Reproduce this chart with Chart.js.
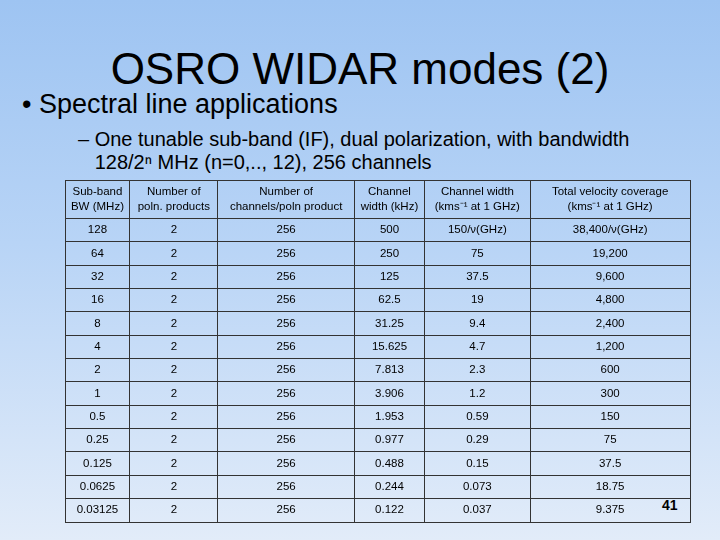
<!DOCTYPE html>
<html><head><meta charset="utf-8">
<script src="https://cdn.jsdelivr.net/npm/chart.js@4/dist/chart.umd.min.js"></script>
<style>
html,body{margin:0;padding:0;width:720px;height:540px;overflow:hidden;font-family:"Liberation Sans",Arial,sans-serif;}
body{background:linear-gradient(to bottom,#9ec4f2 0%,#b8d4f6 45%,#e2ecf9 100%);position:relative;}
.t{position:absolute;left:0;width:720px;text-align:center;top:44px;font-size:44px;color:#000;}
.b1{position:absolute;left:22px;top:89px;font-size:27px;}
.b2{position:absolute;left:78px;top:128px;font-size:20px;line-height:23px;}
.pg{position:absolute;left:662px;top:497px;font-size:14px;font-weight:bold;}
#wrap{position:absolute;left:64px;top:179px;width:627px;height:344px;}
</style></head><body>
<div class="t">OSRO WIDAR modes (2)</div>
<div class="b1">• Spectral line applications</div>
<div class="b2">– One tunable sub-band (IF), dual polarization, with bandwidth<br>&nbsp;&nbsp;&nbsp;128/2ⁿ MHz (n=0,.., 12), 256 channels</div>
<div class="pg">41</div>
<div id="wrap"><canvas id="c"></canvas></div>
<script>
const headers=[["Sub-band","BW (MHz)"],["Number of","poln. products"],["Number of","channels/poln product"],["Channel","width (kHz)"],["Channel width","(kms⁻¹ at 1 GHz)"],["Total velocity coverage","(kms⁻¹ at 1 GHz)"]];
const bandwidth=["128","64","32","16","8","4","2","1","0.5","0.25","0.125","0.0625","0.03125"];
const polnProducts=["2","2","2","2","2","2","2","2","2","2","2","2","2"];
const channels=["256","256","256","256","256","256","256","256","256","256","256","256","256"];
const chanWidthKHz=["500","250","125","62.5","31.25","15.625","7.813","3.906","1.953","0.977","0.488","0.244","0.122"];
const chanWidthKms=["150/ν(GHz)","75","37.5","19","9.4","4.7","2.3","1.2","0.59","0.29","0.15","0.073","0.037"];
const velCoverage=["38,400/ν(GHz)","19,200","9,600","4,800","2,400","1,200","600","300","150","75","37.5","18.75","9.375"];
const columns=[bandwidth,polnProducts,channels,chanWidthKHz,chanWidthKms,velCoverage];
const colEdges=[0,65,153,290,360,466,626];
const headerRows=1.65;
const nRows=bandwidth.length;
const cellText={id:'cellText',afterDraw(ch){
  const {ctx,scales:{x,y}}=ch;ctx.save();ctx.fillStyle='#000';ctx.textAlign='center';ctx.textBaseline='middle';
  ctx.font='11.5px "Liberation Sans",Arial,sans-serif';
  headers.forEach((h,i)=>{const cx=x.getPixelForValue((colEdges[i]+colEdges[i+1])/2);
    ctx.fillText(h[0],cx,y.getPixelForValue(-headerRows*0.68));ctx.fillText(h[1],cx,y.getPixelForValue(-headerRows*0.3));});
  columns.forEach((col,i)=>{const cx=x.getPixelForValue((colEdges[i]+colEdges[i+1])/2);
    col.forEach((v,r)=>ctx.fillText(v,cx,y.getPixelForValue(r+0.5)));});
  ctx.restore();}};
new Chart(document.getElementById('c'),{type:'scatter',data:{datasets:[{data:[]}]},
options:{responsive:true,maintainAspectRatio:false,animation:false,layout:{padding:1},
plugins:{legend:{display:false},tooltip:{enabled:false}},
scales:{x:{type:'linear',min:0,max:colEdges[colEdges.length-1],
  afterBuildTicks:s=>{s.ticks=colEdges.map(v=>({value:v}));},
  ticks:{display:false},grid:{color:'#333',lineWidth:1,drawTicks:false},border:{color:'#333'}},
 y:{type:'linear',reverse:true,min:-headerRows,max:nRows,
  afterBuildTicks:s=>{s.ticks=[-headerRows].concat(bandwidth.map((_,i)=>i),[nRows]).map(v=>({value:v}));},
  ticks:{display:false},grid:{color:'#333',lineWidth:1,drawTicks:false},border:{color:'#333'}}}},
plugins:[cellText]});
</script></body></html>
